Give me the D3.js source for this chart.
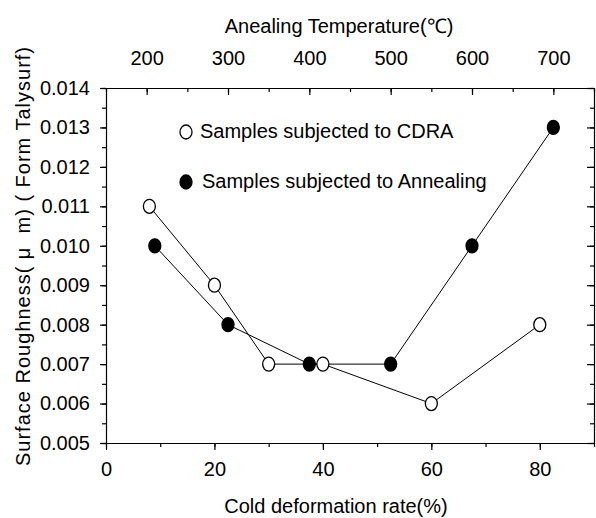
<!DOCTYPE html>
<html>
<head>
<meta charset="utf-8">
<script src="https://cdn.jsdelivr.net/npm/d3@7"></script>
<style>
  body { margin: 0; background: #fff; }
  svg { display: block; font-family: "Liberation Sans", Arial, sans-serif; }
  .axis text { font-size: 20px; fill: #000; }
  .axis path, .axis line { stroke: #000; stroke-width: 1.2; }
  .title { font-size: 20px; fill: #000; white-space: pre; }
  .ytitle { letter-spacing: 1px; }
</style>
</head>
<body>
<div id="chart-area"><svg></svg></div>
<script>
// bottom axis: cold deformation rate (%), open circles
const deformation = [8, 20, 30, 40, 60, 80];
const cdraRoughness = [0.011, 0.009, 0.007, 0.007, 0.006, 0.008];
// top axis: annealing temperature, filled circles
const temperature = [210, 300, 400, 500, 600, 700];
const annealRoughness = [0.010, 0.008, 0.007, 0.007, 0.010, 0.013];

const bottomTicks = [0, 20, 40, 60, 80];
const topTicks = [200, 300, 400, 500, 600, 700];
const yTicks = [0.005, 0.006, 0.007, 0.008, 0.009, 0.010, 0.011, 0.012, 0.013, 0.014];
const legendLabels = ["Samples subjected to CDRA", "Samples subjected to Annealing"];

const chartSize = { width: 596, height: 518 };
const plot = { left: 106, right: 594, top: 88, bottom: 443 };

const svg = d3.select("#chart-area svg")
  .attr("width", chartSize.width)
  .attr("height", chartSize.height);

const x = d3.scaleLinear().domain([0, 90]).range([plot.left, plot.right]);
const xTop = d3.scaleLinear().domain([150, 750]).range([plot.left, plot.right]);
const y = d3.scaleLinear().domain([0.005, 0.014]).range([plot.bottom, plot.top]);

const minor = (scale, step) => d3.range(scale.domain()[0], scale.domain()[1] + step / 2, step);

// minor ticks first, then major axes on top
const addMinor = (axisFn, scale, vals, transform) =>
  svg.append("g")
    .attr("class", "axis")
    .attr("transform", transform)
    .call(axisFn(scale).tickValues(vals).tickSize(4).tickFormat(""))
    .call(g => g.select(".domain").remove());

addMinor(d3.axisBottom, x, minor(x, 10), `translate(0,${plot.bottom})`);
addMinor(d3.axisBottom, xTop, minor(xTop, 50), `translate(0,${plot.top})`)
  .selectAll("line").attr("y2", 4);
addMinor(d3.axisLeft, y, minor(y, 0.0005), `translate(${plot.left},0)`);
addMinor(d3.axisLeft, y, minor(y, 0.0005), `translate(${plot.right},0)`)
  .selectAll("line").attr("x2", -4);

svg.append("g")
  .attr("class", "axis")
  .attr("transform", `translate(0,${plot.bottom})`)
  .call(d3.axisBottom(x).tickValues(bottomTicks).tickSize(7).tickSizeOuter(0).tickPadding(12))
  .selectAll("text").attr("dy", "0.71em");

const topAxis = svg.append("g")
  .attr("class", "axis")
  .attr("transform", `translate(0,${plot.top})`)
  .call(d3.axisTop(xTop).tickValues(topTicks).tickSize(7).tickSizeOuter(0).tickPadding(16));
topAxis.selectAll(".tick line").attr("y2", 7);

svg.append("g")
  .attr("class", "axis")
  .attr("transform", `translate(${plot.left},0)`)
  .call(d3.axisLeft(y).tickValues(yTicks).tickSize(6).tickSizeOuter(0).tickPadding(10).tickFormat(d3.format(".3f")));

const rightAxis = svg.append("g")
  .attr("class", "axis")
  .attr("transform", `translate(${plot.right},0)`)
  .call(d3.axisRight(y).tickValues(yTicks).tickSize(7).tickSizeOuter(0).tickFormat(""));
rightAxis.selectAll(".tick line").attr("x2", -7);

// titles
svg.append("text")
  .attr("class", "title")
  .attr("x", 339)
  .attr("y", 33)
  .attr("text-anchor", "middle")
  .text("Anealing Temperature(℃)");

svg.append("text")
  .attr("class", "title")
  .attr("x", 336)
  .attr("y", 513)
  .attr("text-anchor", "middle")
  .text("Cold deformation rate(%)");

svg.append("text")
  .attr("class", "title ytitle")
  .attr("transform", "translate(30,256) rotate(-90)")
  .attr("text-anchor", "middle")
  .text("Surface Roughness( μ  m) ( Form Talysurf)");

// series
const cdra = deformation.map((d, i) => ({ x: x(d), y: y(cdraRoughness[i]) }));
const anneal = temperature.map((t, i) => ({ x: xTop(t), y: y(annealRoughness[i]) }));

const line = d3.line().x(p => p.x).y(p => p.y);

[cdra, anneal].forEach(pts =>
  svg.append("path")
    .attr("d", line(pts))
    .attr("fill", "none")
    .attr("stroke", "#000")
    .attr("stroke-width", 1));

const marker = (sel, pts, fill) =>
  sel.selectAll(null)
    .data(pts)
    .enter()
    .append("ellipse")
    .attr("cx", p => p.x)
    .attr("cy", p => p.y)
    .attr("rx", 6)
    .attr("ry", 7)
    .attr("fill", fill)
    .attr("stroke", "#000")
    .attr("stroke-width", 1.3);

marker(svg.append("g"), cdra, "#fff");
marker(svg.append("g"), anneal, "#000");

// legend
const legend = svg.append("g").attr("transform", "translate(186,132)");
const items = legend.selectAll("g")
  .data(legendLabels)
  .enter()
  .append("g")
  .attr("transform", (d, i) => `translate(0,${i * 50})`);
items.append("ellipse")
  .attr("rx", 6)
  .attr("ry", 7)
  .attr("fill", (d, i) => (i === 0 ? "#fff" : "#000"))
  .attr("stroke", "#000")
  .attr("stroke-width", 1.3);
items.append("text")
  .attr("class", "title")
  .attr("x", (d, i) => 14 + i * 2)
  .attr("y", 6)
  .text(d => d);
</script>
</body>
</html>
